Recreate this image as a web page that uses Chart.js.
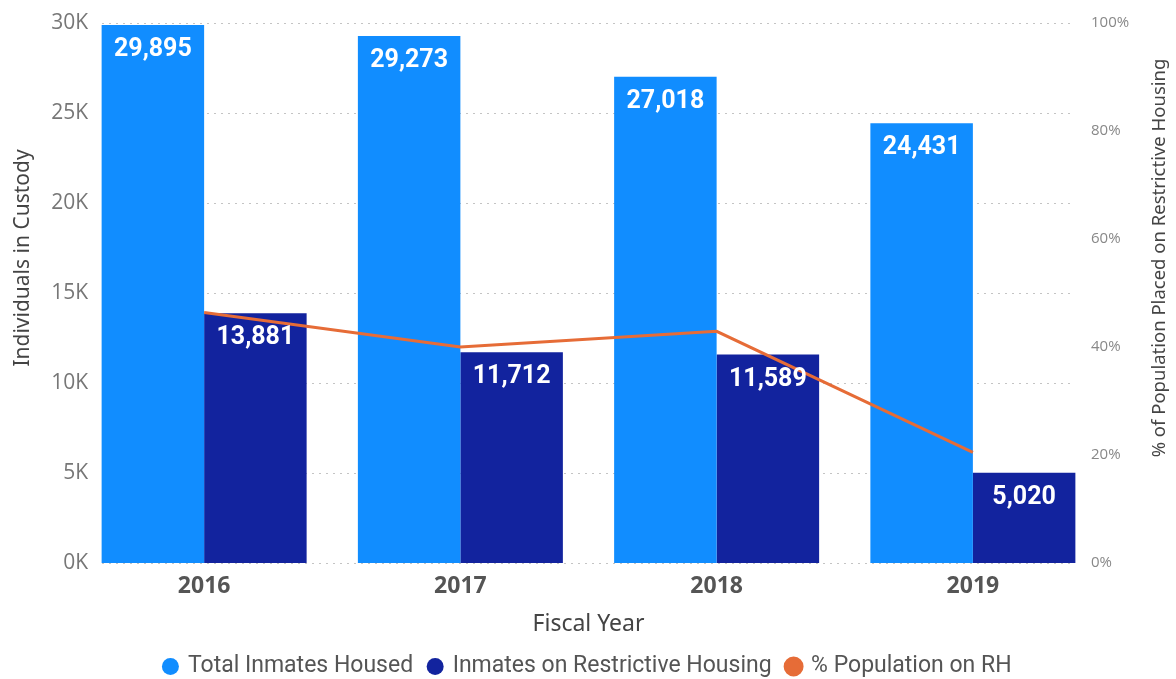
<!DOCTYPE html>
<html>
<head>
<meta charset="utf-8">
<script src="https://cdn.jsdelivr.net/npm/chart.js@4/dist/chart.umd.min.js"></script>
<style>
  html, body { margin: 0; padding: 0; background: #fff; }
  #wrap { width: 1176px; height: 679px; }
</style>
</head>
<body>
<div id="wrap"><canvas id="chart"></canvas></div>
<script>
const years = ['2016', '2017', '2018', '2019']
const totalHoused = [29895, 29273, 27018, 24431]
const onRestrictive = [13881, 11712, 11589, 5020]
const pctOnRH = [46.4, 40.0, 42.9, 20.5]
const leftTicks = [0, 5000, 10000, 15000, 20000, 25000, 30000]
const rightTicks = [0, 20, 40, 60, 80, 100]

const lightBlue = '#118DFF'
const navy = '#12239E'
const orange = '#E66C37'

const fmtK = v => (v / 1000) + 'K'
const fmtPct = v => v + '%'

// dotted horizontal grid, drawn a little inside the plot like the original
const dottedGrid = {
  id: 'dottedGrid',
  beforeDatasetsDraw(chart) {
    const { ctx, chartArea } = chart
    const y = chart.scales.y
    ctx.save()
    ctx.strokeStyle = '#c4c4c4'
    ctx.lineWidth = 1
    ctx.setLineDash([2, 5])
    leftTicks.forEach(v => {
      const py = Math.round(y.getPixelForValue(v)) + 0.5
      ctx.beginPath()
      ctx.moveTo(chartArea.left + 26, py)
      ctx.lineTo(chartArea.right - 26, py)
      ctx.stroke()
    })
    ctx.restore()
  }
}

// y tick labels and titles: they sit over the outer part of the category bands,
// which chart.js would clip, so draw them here
const axisText = {
  id: 'axisText',
  afterDraw(chart) {
    const { ctx, chartArea } = chart
    const y = chart.scales.y
    const y1 = chart.scales.y1
    ctx.save()
    ctx.textBaseline = 'middle'

    ctx.font = '21px "Open Sans"'
    ctx.fillStyle = '#777'
    ctx.textAlign = 'right'
    leftTicks.forEach(v => ctx.fillText(fmtK(v), chartArea.left + 12, y.getPixelForValue(v)))

    ctx.font = '15px "Open Sans"'
    ctx.fillStyle = '#888'
    ctx.textAlign = 'left'
    rightTicks.forEach(v => ctx.fillText(fmtPct(v), chartArea.right - 10, y1.getPixelForValue(v)))

    const midY = (chartArea.top + chartArea.bottom) / 2 - 35
    ctx.fillStyle = '#444'
    ctx.textAlign = 'center'

    ctx.save()
    ctx.translate(23, midY)
    ctx.rotate(-Math.PI / 2)
    ctx.font = '21px "Noto Sans"'
    ctx.fillText('Individuals in Custody', 0, 0)
    ctx.restore()

    ctx.save()
    ctx.translate(1160, midY)
    ctx.rotate(-Math.PI / 2)
    ctx.font = '18.5px "Noto Sans"'
    ctx.fillText('% of Population Placed on Restrictive Housing', 0, 0)
    ctx.restore()

    ctx.restore()
  }
}

// white value labels at the inside top of each bar
const barLabels = {
  id: 'barLabels',
  afterDatasetsDraw(chart) {
    const { ctx } = chart
    ctx.save()
    ctx.fillStyle = '#ffffff'
    ctx.font = 'bold 25px Roboto'
    ctx.textAlign = 'center'
    ctx.textBaseline = 'middle'
    chart.data.datasets.forEach((ds, i) => {
      if (ds.type !== 'bar') return
      const meta = chart.getDatasetMeta(i)
      meta.data.forEach((bar, j) => {
        ctx.fillText(ds.data[j].toLocaleString('en-US'), bar.x, bar.y + 25)
      })
    })
    ctx.restore()
  }
}

new Chart(document.getElementById('chart'), {
  data: {
    labels: years,
    datasets: [
      {
        type: 'bar',
        label: 'Total Inmates Housed',
        data: totalHoused,
        backgroundColor: lightBlue,
        yAxisID: 'y',
        order: 2,
        categoryPercentage: 0.8,
        barPercentage: 1.0,
      },
      {
        type: 'bar',
        label: 'Inmates on Restrictive Housing',
        data: onRestrictive,
        backgroundColor: navy,
        yAxisID: 'y',
        order: 2,
        categoryPercentage: 0.8,
        barPercentage: 1.0,
      },
      {
        type: 'line',
        label: '% Population on RH',
        data: pctOnRH,
        borderColor: orange,
        backgroundColor: orange,
        borderWidth: 3,
        pointRadius: 0,
        pointHoverRadius: 0,
        tension: 0,
        yAxisID: 'y1',
        order: 0,
      }
    ]
  },
  options: {
    responsive: true,
    maintainAspectRatio: false,
    animation: false,
    layout: { padding: { top: 23, left: 0, right: 0, bottom: -9 } },
    scales: {
      x: {
        offset: true,
        grid: { display: false, drawTicks: false },
        border: { display: false },
        ticks: {
          padding: 10,
          color: '#555',
          font: { family: 'Open Sans', size: 23, weight: 'bold' },
        },
        title: {
          display: true,
          text: 'Fiscal Year',
          color: '#444',
          padding: { top: 0, bottom: 1 },
          font: { family: 'Noto Sans', size: 23 },
        },
        afterFit(scale) { scale.height = 76 },
      },
      y: {
        position: 'left',
        min: 0,
        max: 30000,
        grid: { display: false, drawTicks: false },
        border: { display: false },
        ticks: { stepSize: 5000, display: false },
        afterFit(scale) { scale.width = 76 },
      },
      y1: {
        position: 'right',
        min: 0,
        max: 100,
        grid: { display: false, drawTicks: false },
        border: { display: false },
        ticks: { stepSize: 20, display: false },
        afterFit(scale) { scale.width = 75 },
      }
    },
    plugins: {
      legend: {
        position: 'bottom',
        labels: {
          usePointStyle: true,
          pointStyle: 'circle',
          boxWidth: 12,
          boxHeight: 12,
          padding: 16,
          color: '#555',
          font: { family: 'Roboto', size: 23 },
          sort: (a, b) => a.datasetIndex - b.datasetIndex,
        }
      },
      tooltip: { enabled: false }
    }
  },
  plugins: [dottedGrid, barLabels, axisText]
})
</script>
</body>
</html>
